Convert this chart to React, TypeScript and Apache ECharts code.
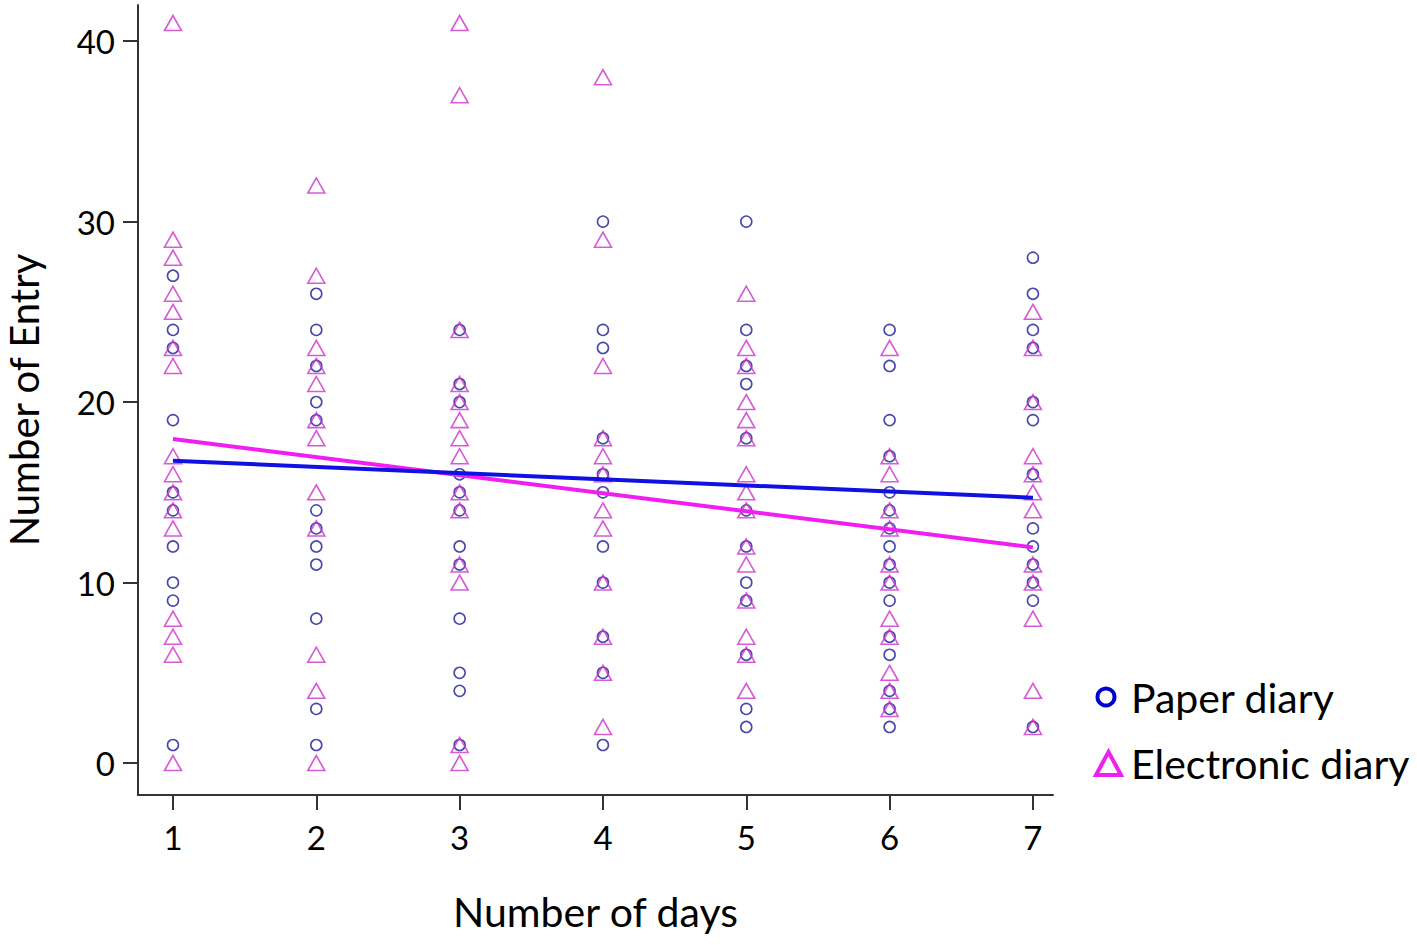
import React, { useEffect, useRef } from "react";
import * as echarts from "echarts";

const xTicks = [1, 2, 3, 4, 5, 6, 7];
const yTicks = [0, 10, 20, 30, 40];

const paper1 = [27, 24, 23, 19, 15, 14, 12, 10, 9, 1];
const paper2 = [26, 24, 22, 20, 19, 14, 13, 12, 11, 8, 3, 1];
const paper3 = [24, 21, 20, 16, 15, 14, 12, 11, 8, 5, 4, 1];
const paper4 = [30, 24, 23, 18, 16, 15, 12, 10, 7, 5, 1];
const paper5 = [30, 24, 22, 21, 18, 14, 12, 10, 9, 6, 3, 2];
const paper6 = [24, 22, 19, 17, 15, 14, 13, 12, 11, 10, 9, 7, 6, 4, 3, 2];
const paper7 = [28, 26, 24, 23, 20, 19, 16, 13, 12, 11, 10, 9, 2];

const elec1 = [41, 29, 28, 26, 25, 23, 22, 17, 16, 15, 14, 13, 8, 7, 6, 0];
const elec2 = [32, 27, 23, 22, 21, 19, 18, 15, 13, 6, 4, 0];
const elec3 = [41, 37, 24, 21, 20, 19, 18, 17, 15, 14, 11, 10, 1, 0];
const elec4 = [38, 29, 22, 18, 17, 16, 14, 13, 10, 7, 5, 2];
const elec5 = [26, 23, 22, 20, 19, 18, 16, 15, 14, 12, 11, 9, 7, 6, 4];
const elec6 = [23, 17, 16, 14, 13, 11, 10, 8, 7, 5, 4, 3];
const elec7 = [25, 23, 20, 17, 16, 15, 14, 11, 10, 8, 4, 2];

const paperFit = [
  [1, 16.75],
  [7, 14.7],
];
const elecFit = [
  [1, 17.95],
  [7, 11.95],
];

const paperCols = [paper1, paper2, paper3, paper4, paper5, paper6, paper7];
const elecCols = [elec1, elec2, elec3, elec4, elec5, elec6, elec7];

const toPoints = (cols: number[][]) =>
  cols.flatMap((vals, i) => vals.map((v) => [xTicks[i], v]));

const FONT = "Lato";

export default function App() {
  const ref = useRef<HTMLDivElement>(null);
  useEffect(() => {
    if (!ref.current) return;
    const chart = echarts.init(ref.current, undefined, { renderer: "svg" });
    chart.setOption({
      animation: false,
      backgroundColor: "#ffffff",
      textStyle: { fontFamily: FONT },
      grid: {
        left: 138,
        right: 364,
        top: 5,
        bottom: 150,
        containLabel: false,
        outerBoundsMode: "none",
      },
      xAxis: {
        type: "value",
        min: 0.756,
        max: 7.14,
        name: "Number of days",
        nameLocation: "middle",
        nameGap: 96,
        nameTextStyle: { fontSize: 41, color: "#000", fontFamily: FONT },
        axisLine: { show: true, onZero: false, lineStyle: { color: "#333", width: 2 } },
        axisTick: {
          show: true,
          length: 15,
          customValues: xTicks,
          lineStyle: { color: "#333", width: 2 },
        },
        axisLabel: {
          customValues: xTicks,
          fontSize: 33,
          color: "#000",
          margin: 25,
          fontFamily: FONT,
        },
        splitLine: { show: false },
      },
      yAxis: {
        type: "value",
        min: -1.77,
        max: 42,
        name: "Number of Entry",
        nameLocation: "middle",
        nameGap: 93,
        nameTextStyle: { fontSize: 40, lineHeight: 42, color: "#000", fontFamily: FONT },
        axisLine: { show: true, onZero: false, lineStyle: { color: "#333", width: 2 } },
        axisTick: {
          show: true,
          length: 15,
          customValues: yTicks,
          lineStyle: { color: "#333", width: 2 },
        },
        axisLabel: {
          customValues: yTicks,
          fontSize: 33,
          color: "#000",
          margin: 23,
          fontFamily: FONT,
        },
        splitLine: { show: false },
      },
      series: [
        {
          name: "Paper diary",
          type: "scatter",
          symbol: "circle",
          symbolSize: 11,
          data: toPoints(paperCols),
          itemStyle: { color: "rgba(0,0,0,0)", borderColor: "#1c1c96", borderWidth: 1.6 },
          z: 2,
        },
        {
          name: "Electronic diary",
          type: "scatter",
          symbol: "triangle",
          symbolSize: [17, 15],
          data: toPoints(elecCols),
          itemStyle: { color: "rgba(0,0,0,0)", borderColor: "#cc33cc", borderWidth: 1.6 },
          z: 3,
        },
        {
          name: "Electronic fit",
          type: "line",
          data: elecFit,
          symbol: "none",
          lineStyle: { color: "#f01ef0", width: 4 },
          z: 4,
        },
        {
          name: "Paper fit",
          type: "line",
          data: paperFit,
          symbol: "none",
          lineStyle: { color: "#1010e0", width: 4 },
          z: 5,
        },
      ],
      graphic: [
        {
          type: "circle",
          shape: { cx: 1106, cy: 697, r: 8.5 },
          style: { fill: "none", stroke: "#0000cc", lineWidth: 4 },
        },
        {
          type: "polygon",
          shape: {
            points: [
              [1096, 775],
              [1121, 775],
              [1108.5, 752],
            ],
          },
          style: { fill: "none", stroke: "#ee22ee", lineWidth: 4 },
        },
        {
          type: "text",
          x: 1131,
          y: 697,
          style: {
            text: "Paper diary",
            fontSize: 41,
            fontFamily: FONT,
            fill: "#000",
            verticalAlign: "middle",
          },
        },
        {
          type: "text",
          x: 1131,
          y: 763,
          style: {
            text: "Electronic diary",
            fontSize: 41,
            fontFamily: FONT,
            fill: "#000",
            verticalAlign: "middle",
          },
        },
      ],
    });
    return () => chart.dispose();
  }, []);
  return (
    <div
      ref={ref}
      style={{ position: "fixed", left: 0, top: 0, width: 1417, height: 945, background: "#fff" }}
    />
  );
}
